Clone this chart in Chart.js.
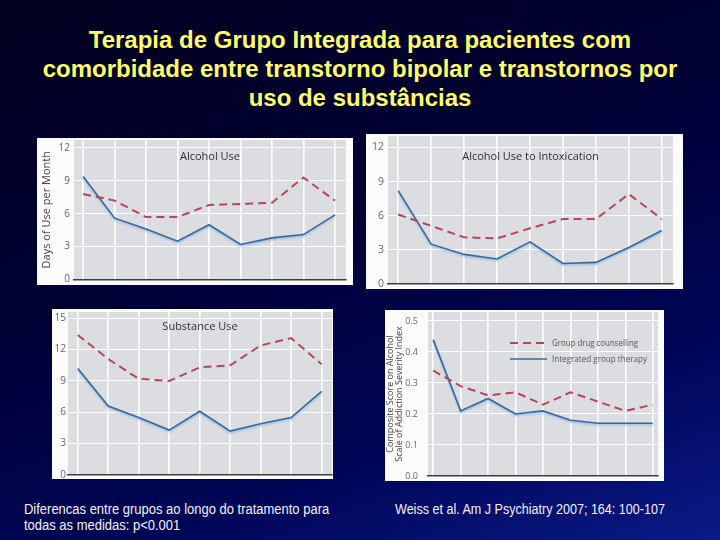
<!DOCTYPE html>
<html><head><meta charset="utf-8">
<script src="https://cdn.jsdelivr.net/npm/chart.js@4/dist/chart.umd.min.js"></script>
<style>
html,body{margin:0;padding:0;}
body{width:720px;height:540px;overflow:hidden;position:relative;
 background:linear-gradient(160deg,#00001e 0%,#000034 40%,#000658 75%,#0a1a88 100%);
 font-family:"Liberation Sans",Arial,sans-serif;}
#title{position:absolute;left:0;top:25px;width:720px;text-align:center;color:#ffff66;font-weight:bold;font-size:24px;line-height:29px;}
.panel{position:absolute;background:#fbfbfb;}
.panel canvas{position:absolute;left:0;top:0;}
.note{position:absolute;color:#f2f2f8;font-family:"Liberation Sans Narrow","Arial Narrow","Liberation Sans",Arial,sans-serif;font-size:14px;line-height:16px;white-space:nowrap;transform-origin:0 0;}
</style></head>
<body>
<div id="title">Terapia de Grupo Integrada para pacientes com<br>comorbidade entre transtorno bipolar e transtornos por<br>uso de substâncias</div>
<div class="note" style="left:24px;top:501px;transform:scaleX(0.927);">Diferencas entre grupos ao longo do tratamento para<br>todas as medidas: p&lt;0.001</div>
<div class="note" style="left:395px;top:501px;transform:scaleX(0.897);">Weiss et al. Am J Psychiatry 2007; 164: 100-107</div>
<script>
// ---- data ----
const timepoints = [0, 1, 2, 3, 4, 5, 6, 7, 8];
const seriesNames = ['Group drug counselling', 'Integrated group therapy'];
const panelTitles = ['Alcohol Use', 'Alcohol Use to Intoxication', 'Substance Use', ''];

const alcoholUseGDC = [7.8, 7.2, 5.7, 5.7, 6.8, 6.9, 7.0, 9.3, 7.2];
const alcoholUseIGT = [9.4, 5.6, 4.6, 3.5, 5.0, 3.2, 3.8, 4.1, 5.9];
const intoxGDC = [6.1, 5.1, 4.1, 4.0, 4.9, 5.7, 5.7, 7.9, 5.7];
const intoxIGT = [8.2, 3.5, 2.6, 2.2, 3.7, 1.8, 1.9, 3.2, 4.7];
const substanceGDC = [13.4, 11.1, 9.2, 9.0, 10.3, 10.5, 12.4, 13.1, 10.6];
const substanceIGT = [10.2, 6.6, 5.5, 4.3, 6.1, 4.2, 4.9, 5.5, 8.0];
const asiGDC = [0.34, 0.29, 0.26, 0.27, 0.23, 0.27, 0.24, 0.21, 0.23];
const asiIGT = [0.44, 0.21, 0.25, 0.20, 0.21, 0.18, 0.17, 0.17, 0.17];

const yTicks12 = [0, 3, 6, 9, 12];
const yTicks15 = [0, 3, 6, 9, 12, 15];
const yTicksASI = [0, 0.1, 0.2, 0.3, 0.4, 0.5];

// ---- plugin: plot background, inner title, inner legend, glow ----
const decor = {
  id: 'decor',
  beforeDraw(chart) {
    const {ctx, chartArea: a} = chart;
    ctx.save();
    ctx.fillStyle = '#dcdde0';
    ctx.fillRect(a.left, a.top, a.right - a.left, a.bottom - a.top);
    ctx.restore();
  },
  beforeDatasetDraw(chart, args) {
    const ds = chart.data.datasets[args.index];
    chart.ctx.save();
    if (ds.glow) {
      chart.ctx.shadowColor = 'rgba(140,185,230,0.95)';
      chart.ctx.shadowBlur = 2;
      chart.ctx.shadowOffsetY = 1.5;
    }
  },
  afterDatasetDraw(chart) { chart.ctx.restore(); },
  afterDraw(chart, args, o) {
    const {ctx, chartArea: a} = chart;
    ctx.save();
    if (o.text) {
      ctx.font = '11px "Open Sans", "DejaVu Sans", sans-serif';
      ctx.fillStyle = '#303030';
      ctx.textAlign = 'center';
      ctx.textBaseline = 'middle';
      ctx.fillText(o.text, (a.left + a.right) / 2, a.top + o.dy);
    }
    if (o.legend) {
      ctx.font = '9.5px "Open Sans", "DejaVu Sans", sans-serif';
      ctx.textBaseline = 'middle';
      chart.data.datasets.forEach((ds, i) => {
        const y = a.top + o.legend.y + i * o.legend.gap;
        const x = a.left + o.legend.x;
        ctx.strokeStyle = ds.borderColor;
        ctx.lineWidth = ds.borderWidth;
        ctx.setLineDash(ds.borderDash || []);
        ctx.beginPath(); ctx.moveTo(x, y); ctx.lineTo(x + 37, y); ctx.stroke();
        ctx.setLineDash([]);
        ctx.fillStyle = '#555';
        ctx.textAlign = 'left';
        ctx.fillText(ds.label, x + 42, y, o.legend.widths[i]);
      });
    }
    ctx.restore();
  }
};

function noPad(s) { s.paddingTop = 0; s.paddingBottom = 0; s.paddingLeft = 0; s.paddingRight = 0; }

function makePanel(p) {
  const [L, T, W, H] = p.box;
  const div = document.createElement('div');
  div.className = 'panel';
  Object.assign(div.style, {left: L + 'px', top: T + 'px', width: W + 'px', height: H + 'px'});
  const c = document.createElement('canvas');
  c.width = W; c.height = H; c.style.width = W + 'px'; c.style.height = H + 'px';
  div.appendChild(c);
  document.body.appendChild(div);
  new Chart(c, {
    type: 'line',
    data: {
      datasets: [
        {label: seriesNames[0], data: timepoints.map((t, i) => ({x: t, y: p.gdc[i]})),
         borderColor: '#b8445f', borderWidth: 2, borderDash: [8, 5], pointRadius: 0, tension: 0},
        {label: seriesNames[1], data: timepoints.map((t, i) => ({x: t, y: p.igt[i]})),
         borderColor: '#3a679a', borderWidth: 1.6, pointRadius: 0, tension: 0, glow: true}
      ]
    },
    options: {
      responsive: false, animation: false, devicePixelRatio: 1,
      layout: {padding: {left: 0, top: p.pad[0], right: p.pad[1], bottom: p.pad[2]}},
      plugins: {legend: {display: false}, tooltip: {enabled: false},
        decor: {text: p.title, dy: p.titleDy, legend: p.legend}},
      scales: {
        x: {type: 'linear', min: p.xr[0], max: p.xr[1],
          afterBuildTicks: s => { s.ticks = timepoints.map(v => ({value: v})); },
          afterFit: s => { s.height = 0; noPad(s); },
          ticks: {display: false},
          grid: {color: '#ffffff', lineWidth: 1.6, drawTicks: false},
          border: {display: true, color: '#3c3c3c', width: 1.6}},
        y: {min: 0, max: p.ymax,
          afterBuildTicks: s => { s.ticks = p.yticks.map(v => ({value: v})); },
          afterFit: s => { s.width = p.yw; noPad(s); },
          ticks: {padding: p.tp, color: '#666', font: {size: p.tfs || 10, family: '"Open Sans", "DejaVu Sans", sans-serif'},
            callback: v => p.fmt ? v.toFixed(1) : String(v)},
          grid: {color: '#ffffff', lineWidth: 1, drawTicks: false},
          border: {display: false},
          title: p.ytitle ? {display: true, text: p.ytitle, color: '#444', padding: {top: p.ytp, bottom: 0},
            font: {size: p.ytfs, family: '"Open Sans", "DejaVu Sans", sans-serif', lineHeight: p.ytlh}} : {display: false}}
      }
    },
    plugins: [decor]
  });
}

makePanel({box: [37, 138, 316, 147], pad: [2, 7, 5.5], yw: 37, tp: 4, xr: [-0.29, 8.35], ymax: 12.73,
  yticks: yTicks12, gdc: alcoholUseGDC, igt: alcoholUseIGT, title: panelTitles[0], titleDy: 17,
  ytitle: 'Days of Use per Month', ytfs: 11, ytp: 3, ytlh: 1.2});
makePanel({box: [366, 134, 317, 155], pad: [2, 10, 5], yw: 22, tp: 4, xr: [-0.31, 8.34], ymax: 13,
  yticks: yTicks12, gdc: intoxGDC, igt: intoxIGT, title: panelTitles[1], titleDy: 21, tfs: 10.5});
makePanel({box: [52, 309, 281, 170], pad: [3, 1, 4], yw: 16, tp: 2, xr: [-0.32, 8.34], ymax: 15.6,
  yticks: yTicks15, gdc: substanceGDC, igt: substanceIGT, title: panelTitles[2], titleDy: 15});
makePanel({box: [385, 310, 279, 171], pad: [2, 6, 5], yw: 43, tp: 10, tfs: 9, xr: [-0.19, 8.19], ymax: 0.529,
  yticks: yTicksASI, gdc: asiGDC, igt: asiIGT, title: panelTitles[3], titleDy: 0, fmt: true,
  legend: {x: 82, y: 31, gap: 16, widths: [86, 95]},
  ytitle: ['Composite Score on Alcohol', 'Scale of Addiction Severity Index'], ytfs: 9, ytp: 0, ytlh: 1.1});
</script>
</body></html>
